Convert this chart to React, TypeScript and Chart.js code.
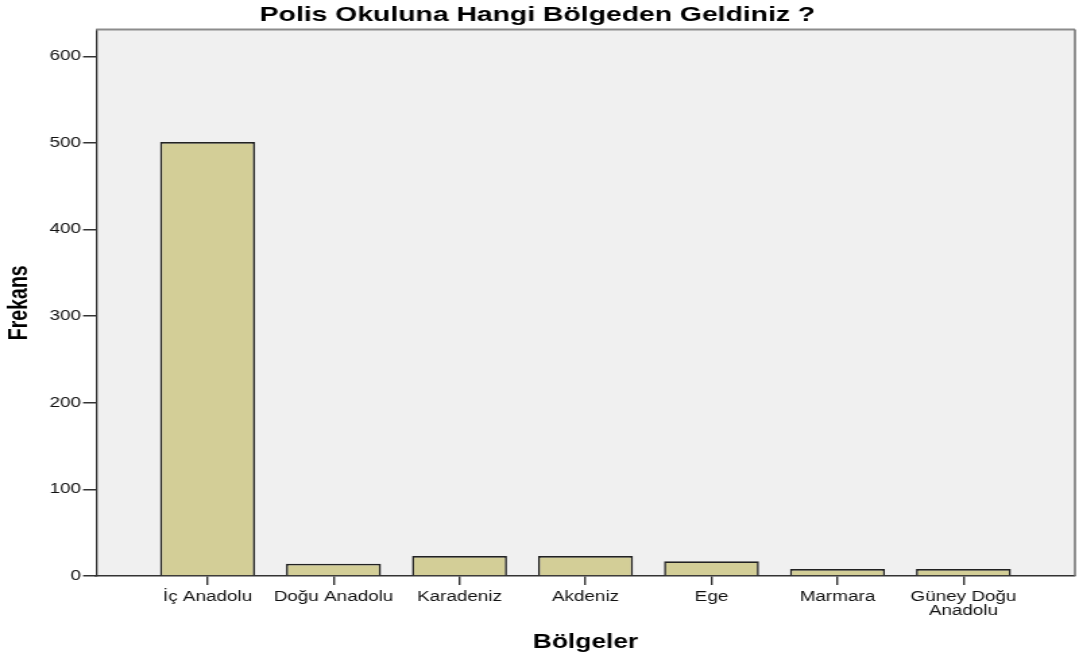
import React, { useEffect, useRef } from "react";
import { Chart, registerables } from "chart.js";

Chart.register(...registerables);

const chartTitle = "Polis Okuluna Hangi Bölgeden Geldiniz ?";
const xTitle = "Bölgeler";
const yTitle = "Frekans";
const categories = [
  "İç Anadolu",
  "Doğu Anadolu",
  "Karadeniz",
  "Akdeniz",
  "Ege",
  "Marmara",
  "Güney Doğu\nAnadolu",
];
const frequencies = [501, 14, 23, 23, 17, 8, 8];
const yTicks = [0, 100, 200, 300, 400, 500, 600];
const yMax = 631;

const OUT_W = 1079;
const OUT_H = 659;
const CANVAS_W = 800; // drawn narrower then stretched horizontally like the reference
const SX = OUT_W / CANVAS_W;
const FONT = "'Liberation Sans', Arial, sans-serif";

const plotFrame = {
  id: "plotFrame",
  beforeDraw(chart: any) {
    const { ctx, chartArea: a } = chart;
    ctx.save();
    ctx.fillStyle = "#f0f0f0";
    ctx.fillRect(a.left, a.top, a.right - a.left, a.bottom - a.top);
    ctx.restore();
  },
  afterDraw(chart: any) {
    const { ctx, chartArea: a } = chart;
    ctx.save();
    ctx.strokeStyle = "#8c8c8c";
    ctx.lineWidth = 2;
    ctx.beginPath();
    ctx.moveTo(a.left, a.top);
    ctx.lineTo(a.right, a.top);
    ctx.stroke();
    ctx.strokeStyle = "#6e6e6e";
    ctx.lineWidth = 1.5;
    ctx.beginPath();
    ctx.moveTo(a.right, a.top);
    ctx.lineTo(a.right, a.bottom);
    ctx.stroke();
    ctx.restore();
  },
};

export default function App() {
  const ref = useRef<HTMLCanvasElement | null>(null);

  useEffect(() => {
    if (!ref.current) return;
    const points = frequencies.map((v, i) => ({ x: i, y: v }));
    const chart = new Chart(ref.current, {
      type: "bar",
      data: {
        datasets: [
          {
            data: points as any,
            backgroundColor: "#d3ce97",
            borderColor: "#222",
            borderWidth: 1.6,
            barPercentage: 0.754,
            categoryPercentage: 1,
          },
        ],
      },
      plugins: [plotFrame],
      options: {
        responsive: false,
        animation: false,
        devicePixelRatio: 1,
        layout: { padding: { left: 0, right: 3, top: 0, bottom: 0 } },
        plugins: {
          legend: { display: false },
          tooltip: { enabled: false },
          title: {
            display: true,
            text: chartTitle,
            color: "#000",
            font: { family: FONT, size: 21, weight: "bold", lineHeight: 1.2 },
            padding: { top: 3, bottom: 1.3 },
          },
        },
        scales: {
          x: {
            type: "linear",
            min: -0.885,
            max: categories.length - 1 + 0.885,
            offset: false,
            afterBuildTicks: (scale: any) => {
              scale.ticks = categories.map((_, i) => ({ value: i }));
            },
            afterFit: (scale: any) => {
              scale.height = 83;
              scale.paddingLeft = 0;
              scale.paddingRight = 0;
            },
            ticks: {
              autoSkip: false,
              maxRotation: 0,
              minRotation: 0,
              padding: 5.5,
              color: "#111",
              font: { family: FONT, size: 14, lineHeight: 0.96 },
              callback: (value: any) => {
                const lbl = categories[Math.round(Number(value))];
                if (lbl === undefined) return "";
                return lbl.includes("\n") ? lbl.split("\n") : lbl;
              },
            },
            grid: {
              offset: false,
              drawOnChartArea: false,
              drawTicks: true,
              tickLength: 9,
              color: "#333",
              lineWidth: 1.4,
            },
            border: { display: true, color: "#333", width: 1.5 },
            title: {
              display: true,
              text: xTitle,
              color: "#000",
              font: { family: FONT, size: 19.5, weight: "bold", lineHeight: 1.2 },
              padding: { top: 0, bottom: 5 },
            },
          },
          y: {
            type: "linear",
            min: 0,
            max: yMax,
            afterBuildTicks: (scale: any) => {
              scale.ticks = yTicks.map((v) => ({ value: v }));
            },
            afterFit: (scale: any) => {
              scale.width = 96 / SX;
              scale.paddingTop = 0;
              scale.paddingBottom = 0;
            },
            ticks: {
              padding: 1.5,
              color: "#111",
              font: { family: FONT, size: 14 },
            },
            grid: {
              drawOnChartArea: false,
              drawTicks: true,
              tickLength: 9.6,
              color: "#333",
              lineWidth: 1.5,
            },
            border: { display: true, color: "#333", width: 1.3 },
            title: {
              display: true,
              text: yTitle,
              color: "#000",
              font: { family: FONT, size: 19.5, weight: "bold", lineHeight: 1.2 },
              padding: { top: 3.1, bottom: 0 },
            },
          },
        },
      },
    } as any);
    return () => chart.destroy();
  }, []);

  return (
    <div
      style={{
        position: "fixed",
        left: 0,
        top: 0,
        width: OUT_W,
        height: OUT_H,
        background: "#fff",
      }}
    >
      <canvas
        ref={ref}
        width={CANVAS_W}
        height={OUT_H}
        style={{ width: OUT_W + "px", height: OUT_H + "px", display: "block" }}
      />
    </div>
  );
}
